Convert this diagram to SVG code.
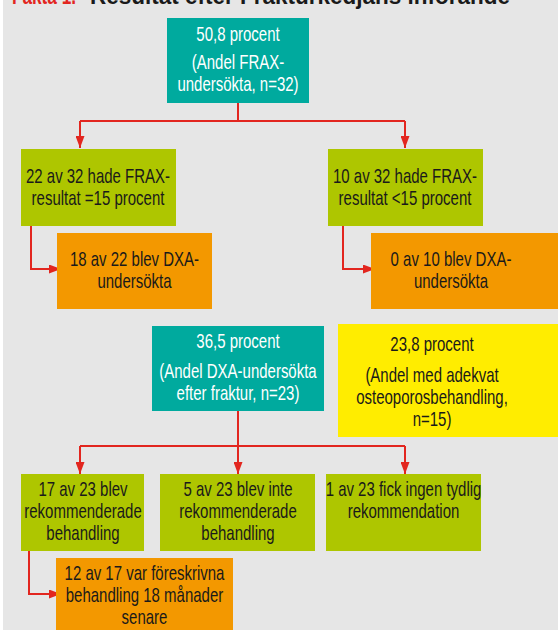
<svg xmlns="http://www.w3.org/2000/svg" width="558" height="630" viewBox="0 0 558 630">
<style>
.t{font-family:"Liberation Sans",Arial,sans-serif;font-size:20px;text-anchor:middle;fill:#1a1a1a}
.w{fill:#ffffff}
.teal{fill:#00aa9e}
.green{fill:#aec600}
.orange{fill:#f39800}
.yellow{fill:#ffed00}
.c{fill:none;stroke:#e2261f;stroke-width:2}
.title{font-family:"Liberation Sans",Arial,sans-serif;font-weight:bold;font-size:24px}
</style>
<defs>
<marker id="ah" markerUnits="userSpaceOnUse" markerWidth="13" markerHeight="9" refX="12" refY="4.5" orient="auto">
<path d="M0,0 L12,4.5 L0,9 z" fill="#e2261f"/>
</marker>
</defs>
<rect x="0" y="0" width="558" height="630" fill="#ffffff"/>
<rect x="3" y="0" width="555" height="630" fill="#e6e6e6"/>
<g id="title">
<text class="title" x="12" y="4" fill="#e2261f" textLength="64" lengthAdjust="spacingAndGlyphs">Fakta 1.</text>
<text class="title" x="90" y="4" fill="#1a1a1a" textLength="420" lengthAdjust="spacingAndGlyphs">Resultat efter Frakturkedjans införande</text>
</g>
<g id="connectors">
<path class="c" d="M238,103 V121 M80,121 H405"/>
<path class="c" d="M80,121 V148" marker-end="url(#ah)"/>
<path class="c" d="M405,121 V148" marker-end="url(#ah)"/>
<path class="c" d="M31,226 V269 H61" marker-end="url(#ah)"/>
<path class="c" d="M343,226 V269 H375" marker-end="url(#ah)"/>
<path class="c" d="M238,411 V446 M80,446 H405"/>
<path class="c" d="M80,446 V474" marker-end="url(#ah)"/>
<path class="c" d="M238,446 V474" marker-end="url(#ah)"/>
<path class="c" d="M405,446 V474" marker-end="url(#ah)"/>
<path class="c" d="M29,551 V594 H61" marker-end="url(#ah)"/>
</g>
<g id="n1">
<rect class="teal" x="167" y="18" width="142" height="85"/>
<g transform="translate(238,0) scale(0.75,1)">
<text class="t w" x="0" y="41">50,8 procent</text>
<text class="t w" x="0" y="69">(Andel FRAX-</text>
<text class="t w" x="0" y="91">undersökta, n=32)</text>
</g>
</g>
<g id="n2">
<rect class="green" x="21" y="149" width="155" height="77"/>
<g transform="translate(98,0) scale(0.75,1)">
<text class="t" x="0" y="183">22 av 32 hade FRAX-</text>
<text class="t" x="0" y="205">resultat =15 procent</text>
</g>
</g>
<g id="n3">
<rect class="green" x="328" y="149" width="155" height="77"/>
<g transform="translate(405,0) scale(0.75,1)">
<text class="t" x="0" y="183">10 av 32 hade FRAX-</text>
<text class="t" x="0" y="205">resultat &lt;15 procent</text>
</g>
</g>
<g id="n4">
<rect class="orange" x="57" y="233" width="155" height="76"/>
<g transform="translate(134.5,0) scale(0.75,1)">
<text class="t" x="0" y="266">18 av 22 blev DXA-</text>
<text class="t" x="0" y="288">undersökta</text>
</g>
</g>
<g id="n5">
<rect class="orange" x="371" y="233" width="187" height="76"/>
<g transform="translate(451,0) scale(0.75,1)">
<text class="t" x="0" y="266">0 av 10 blev DXA-</text>
<text class="t" x="0" y="288">undersökta</text>
</g>
</g>
<g id="n6">
<rect class="teal" x="152" y="326" width="172" height="85"/>
<g transform="translate(238,0) scale(0.75,1)">
<text class="t w" x="0" y="348">36,5 procent</text>
<text class="t w" x="0" y="378">(Andel DXA-undersökta</text>
<text class="t w" x="0" y="400">efter fraktur, n=23)</text>
</g>
</g>
<g id="n7">
<rect class="yellow" x="338" y="324" width="220" height="113"/>
<g transform="translate(432,0) scale(0.75,1)">
<text class="t" x="0" y="351">23,8 procent</text>
<text class="t" x="0" y="382">(Andel med adekvat</text>
<text class="t" x="0" y="404">osteoporosbehandling,</text>
<text class="t" x="0" y="426">n=15)</text>
</g>
</g>
<g id="n8">
<rect class="green" x="21" y="474" width="123" height="77"/>
<g transform="translate(83,0) scale(0.75,1)">
<text class="t" x="0" y="496">17 av 23 blev</text>
<text class="t" x="0" y="518">rekommenderade</text>
<text class="t" x="0" y="540">behandling</text>
</g>
</g>
<g id="n9">
<rect class="green" x="160" y="474" width="155" height="77"/>
<g transform="translate(238,0) scale(0.75,1)">
<text class="t" x="0" y="496">5 av 23 blev inte</text>
<text class="t" x="0" y="518">rekommenderade</text>
<text class="t" x="0" y="540">behandling</text>
</g>
</g>
<g id="n10">
<rect class="green" x="326" y="474" width="155" height="77"/>
<g transform="translate(403.5,0) scale(0.75,1)">
<text class="t" x="0" y="496">1 av 23 fick ingen tydlig</text>
<text class="t" x="0" y="518">rekommendation</text>
</g>
</g>
<g id="n11">
<rect class="orange" x="56" y="558" width="177" height="72"/>
<g transform="translate(144.5,0) scale(0.75,1)">
<text class="t" x="0" y="580">12 av 17 var föreskrivna</text>
<text class="t" x="0" y="602">behandling 18 månader</text>
<text class="t" x="0" y="624">senare</text>
</g>
</g>
</svg>
